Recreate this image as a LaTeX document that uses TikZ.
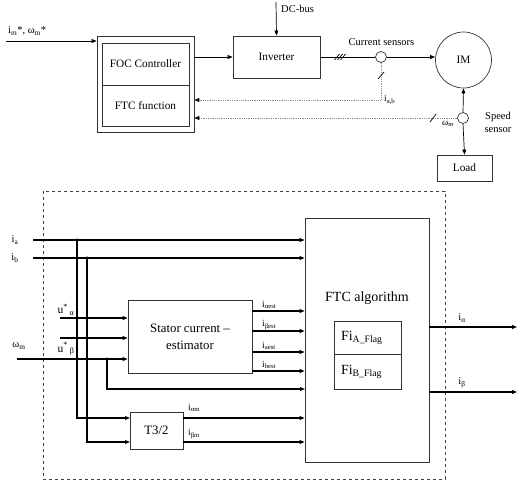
\documentclass[tikz,border=0pt]{standalone}
\usepackage{fontspec}
\setmainfont{Liberation Serif}
\usetikzlibrary{arrows.meta}
\begin{document}
\begin{tikzpicture}[x=1pt,y=-1pt,
  box/.style={draw=black!80, line width=0.7pt, inner sep=0pt, align=center, font=\fontsize{11.3}{13}\selectfont},
  arr/.style={-{Triangle[length=5pt,width=3.8pt]}},
  fbarr/.style={-{Triangle[length=5pt,width=3.8pt,color=black]}},
  wire/.style={line width=0.7pt},
  bus/.style={line width=1.1pt},
  fb/.style={draw=black!45, densely dotted, line width=0.8pt},
  lbl/.style={inner sep=0pt, font=\fontsize{10.5}{12}\selectfont},
  slbl/.style={inner sep=0pt, font=\fontsize{9.5}{10}\selectfont},
  sens/.style={circle, draw=black!80, line width=0.7pt, minimum size=11pt, inner sep=0pt},
  dot/.style={circle, fill=black, inner sep=0pt, minimum size=3.4pt},
  slash/.style={line width=0.7pt}]
\useasboundingbox (0,0) rectangle (521,485);

% ---------------- top part ----------------
\node[box, minimum width=97pt, minimum height=96pt] (ctrl) at (145.5,84) {};
\node[box, minimum width=87pt, minimum height=42pt] (foc) at (145.5,64) {FOC Controller};
\node[box, minimum width=87pt, minimum height=41pt] (ftcf) at (145.5,105.5) {FTC function};
\node[box, minimum width=87pt, minimum height=42pt] (inv) at (276.5,57) {Inverter};
\coordinate (dc) at (276,2);
\node[lbl, anchor=west] (dcl) at (281,9) {DC-bus};
\node[sens] (cs) at (381,57) {};
\node[lbl] (csl) at (381.5,42) {Current sensors};
\node[circle, draw=black!80, line width=0.7pt, minimum size=56pt, inner sep=0pt, font=\fontsize{11.3}{13}\selectfont] (im) at (463.5,60) {IM};
\node[sens] (ss) at (463,118) {};
\node[box, minimum width=55pt, minimum height=26pt] (load) at (464.5,168) {Load};
\node[lbl, align=center, font=\fontsize{10.5}{13}\selectfont] (ssl) at (498,122) {Speed\\sensor};

\coordinate (in) at (6,41);
\node[lbl, anchor=west] (inl) at (8,31) {i\textsubscript{m}*, ω\textsubscript{m}*};
\draw[wire, arr] (in) -- (in -| ctrl.west);
\draw[wire, arr] (ctrl.east |- inv.west) -- (inv.west);
\draw[wire, arr] (dc) -- (inv.north);
\draw[wire] (inv.east) -- (cs.west);
\draw[wire, arr] (cs.east) -- (cs.east -| im.west);
\foreach \dx in {-3,0,3} \draw[slash] (340+\dx-2.5,60) -- (340+\dx+2.5,54);

\coordinate (iab) at (381,100);
\draw[fb, fbarr] (cs.south) -- (iab) -- (iab -| ctrl.east);
\draw[slash] (378,79) -- (384,72);
\node[slbl, anchor=west] (iabl) at (384,100) {i\textsubscript{a,b}};

\draw[wire, arr] (ss.north) -- (im.south);
\draw[wire, arr] (ss.south) -- (load.north);
\draw[fb, fbarr] (ss.west) -- (ss.west -| ctrl.east);
\draw[slash] (430,122) -- (436,114);
\node[slbl] (wml) at (448,124) {ω\textsubscript{m}};

% ---------------- bottom part ----------------
\draw[dashed, black!75, line width=0.8pt] (43,191) rectangle (445,479);

\node[box, minimum width=124pt, minimum height=244pt] (ftc) at (367,340) {};
\node[inner sep=0pt, font=\fontsize{14}{15}\selectfont] (ftct) at (367,298) {FTC algorithm};
\node[box, minimum width=67pt, minimum height=33pt, anchor=north, text width=53pt, align=left, font=\fontsize{14}{16}\selectfont] (fa) at (367.5,321) {Fi\textsubscript{A\_Flag}};
\node[box, minimum width=67pt, minimum height=35pt, anchor=north, text width=53pt, align=left, font=\fontsize{14}{16}\selectfont] (fbx) at (367.5,354) {Fi\textsubscript{B\_Flag}};

\node[box, minimum width=124pt, minimum height=73pt, font=\fontsize{12.8}{17}\selectfont] (est) at (190,337) {Stator current –\\estimator};
\node[box, minimum width=53pt, minimum height=37pt, font=\fontsize{12.8}{15}\selectfont] (t32) at (156.5,430.5) {T3/2};

% inputs i_a, i_b
\coordinate (ia) at (33,240);
\coordinate (ib) at (33,258);
\node[lbl] (ial) at (15,240) {i\textsubscript{a}};
\node[lbl] (ibl) at (15,258) {i\textsubscript{b}};
\draw[bus, arr] (ia) -- (ia -| ftc.west);
\draw[bus, arr] (ib) -- (ib -| ftc.west);
\node[dot] (da) at (77,240) {};
\node[dot] (db) at (87,258) {};
\coordinate (ta) at (130,418);
\coordinate (tb) at (130,442);
\draw[bus, arr] (da.center) |- (ta);
\draw[bus, arr] (db.center) |- (tb);

% u alpha, u beta, omega
\coordinate (ua) at (60,318);
\coordinate (ub) at (60,338);
\coordinate (wm) at (17,359);
\node[lbl, font=\fontsize{11.5}{12}\selectfont] (ual) at (66,310) {u\textsuperscript{*}\,\textsubscript{α}};
\node[lbl, font=\fontsize{11.5}{12}\selectfont] (ubl) at (66,349) {u\textsuperscript{*}\,\textsubscript{β}};
\node[lbl] (wml2) at (19,346) {ω\textsubscript{m}};
\draw[bus, arr] (ua) -- (ua -| est.west);
\draw[bus, arr] (ub) -- (ub -| est.west);
\draw[bus, arr] (wm) -- (wm -| est.west);
\node[dot] (dw) at (107,359) {};
\coordinate (wf) at (305,389);
\draw[bus, arr] (dw.center) |- (wf);

% estimator outputs
\foreach \y/\t [count=\k] in {311/αest, 331/βest, 352/aest, 371/best} {
  \coordinate (eo\k) at (252,\y);
  \draw[bus, arr] (eo\k) -- (eo\k -| ftc.west);
  \node[slbl, anchor=west] (eol\k) at (262,\y-6) {i\textsubscript{\t}};
}

% T3/2 outputs
\coordinate (to1) at (183,418);
\coordinate (to2) at (183,442);
\draw[bus, arr] (to1) -- (to1 -| ftc.west);
\draw[bus, arr] (to2) -- (to2 -| ftc.west);
\node[slbl, anchor=west] (tol1) at (188,408) {i\textsubscript{αm}};
\node[slbl, anchor=west] (tol2) at (188,434) {i\textsubscript{βm}};

% outputs
\coordinate (oa) at (517,327);
\coordinate (ob) at (517,392);
\draw[bus, arr] (ftc.east |- oa) -- (oa);
\draw[bus, arr] (ftc.east |- ob) -- (ob);
\node[lbl] (oal) at (462,318) {i\textsubscript{α}};
\node[lbl] (obl) at (462,383) {i\textsubscript{β}};
\end{tikzpicture}
\end{document}
